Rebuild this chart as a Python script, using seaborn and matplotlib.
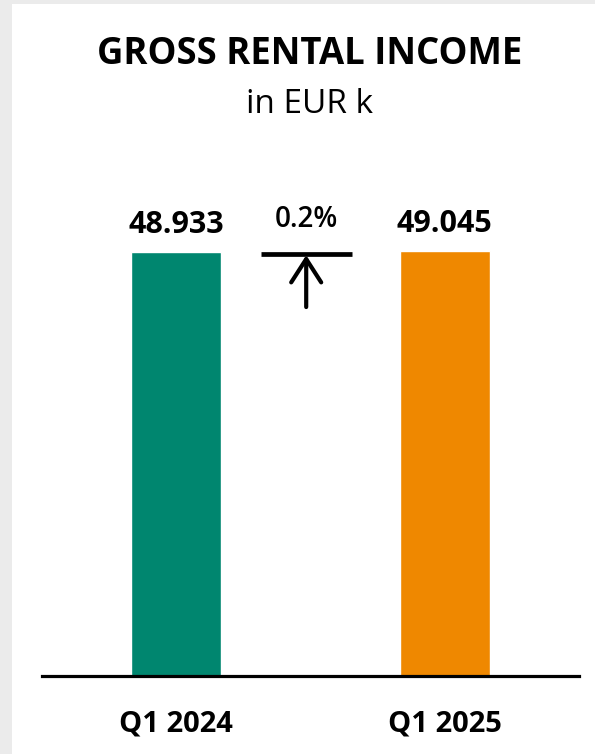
import matplotlib
matplotlib.use("Agg")
import matplotlib.pyplot as plt
from matplotlib.patches import Rectangle
import seaborn as sns
import pandas as pd

# Quarterly gross rental income, EUR thousand
quarters = ["Q1 2024", "Q1 2025"]
income = [48933, 49045]
bar_colors = ["#00866F", "#EF8800"]

sns.set_theme(style="white")
plt.rcParams["font.family"] = ["Open Sans", "DejaVu Sans"]

W, H = 595, 754
fig = plt.figure(figsize=(W / 100, H / 100), dpi=100, facecolor="#EBEBEB")

# white card on the grey page
fig.patches.append(Rectangle((12 / W, 0), 1 - 12 / W, 750 / H,
                             transform=fig.transFigure, facecolor="white",
                             edgecolor="none", zorder=-5))

ax = fig.add_axes([42 / W, 78 / H, 537 / W, 520 / H])
ax.set_facecolor("none")
ax.set_zorder(2)

df = pd.DataFrame({"quarter": quarters, "income": income})
sns.barplot(data=df, x="quarter", y="income", hue="quarter",
            palette=bar_colors, width=0.335, legend=False, ax=ax,
            saturation=1)

ax.set_xlim(-0.5, 1.5)
ax.set_ylim(0, 60000)
ax.set_xlabel("")
ax.set_ylabel("")
ax.set_yticks([])
for side in ["left", "right", "top"]:
    ax.spines[side].set_visible(False)
ax.spines["bottom"].set_color("black")
ax.spines["bottom"].set_linewidth(2.3)
ax.tick_params(axis="x", length=0, pad=24)
for lbl in ax.get_xticklabels():
    lbl.set_fontsize(21)
    lbl.set_fontweight("bold")
    lbl.set_color("black")

# value labels on top of the bars
for i, v in enumerate(income):
    ax.annotate(f"{v:,}".replace(",", "."), xy=(i, v), xytext=(0, 13.5),
                textcoords="offset points", ha="center", va="baseline",
                fontsize=22, fontweight="bold", color="black")

# year-on-year change marker
change = (income[1] / income[0] - 1) * 100
top = max(income)
ax.hlines(top * 0.9935, 0.315, 0.655, color="black", linewidth=3.4)
ax.annotate("", xy=(0.484, top * 0.990), xytext=(0.484, top * 0.868),
            arrowprops=dict(arrowstyle="->,head_length=0.42,head_width=0.27",
                            lw=3.0, color="black", mutation_scale=40,
                            shrinkA=0, shrinkB=0, capstyle="round",
                            joinstyle="round"))
ax.annotate(f"{change:.1f}%", xy=(0.484, top), xytext=(0, 17),
            textcoords="offset points", ha="center", va="baseline",
            fontsize=20, fontweight="semibold", color="black")

fig.text(310 / W, 1 - 64 / H, "GROSS RENTAL INCOME", ha="center",
         va="baseline", fontsize=26.3, fontweight="bold", color="black")
fig.text(310 / W, 1 - 113 / H, "in EUR k", ha="center", va="baseline",
         fontsize=24, color="black")

fig.savefig("out.png", dpi=100, facecolor=fig.get_facecolor())
